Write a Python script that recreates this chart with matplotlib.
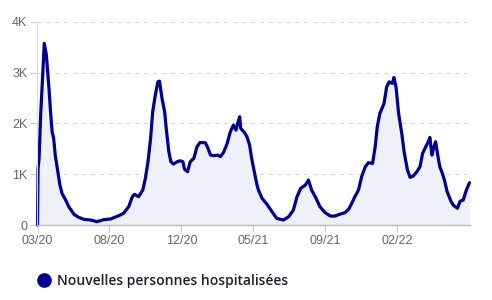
import pandas as pd
import matplotlib
matplotlib.use("Agg")
import matplotlib.pyplot as plt
from matplotlib.lines import Line2D


# Data

start_date = pd.Timestamp("2020-03-18")

day_offsets = [
    0, 1, 3, 6, 10, 13, 17, 22, 25, 28, 31, 34, 38, 43, 47, 54, 60, 70, 79, 89,
    102, 114, 127, 140, 156, 165, 175, 182, 186, 194, 202, 207, 212, 217, 221,
    226, 231, 234, 239, 244, 247, 252, 256, 261, 268, 274, 279, 282, 288, 293,
    300, 306, 312, 322, 326, 332, 338, 346, 351, 357, 364, 370, 376, 381, 384,
    388, 390, 397, 402, 407, 411, 416, 421, 424, 431, 440, 450, 459, 472, 482,
    491, 498, 505, 514, 520, 526, 533, 542, 552, 562, 571, 581, 590, 597, 603,
    609, 616, 622, 629, 635, 643, 648, 652, 657, 665, 670, 675, 681, 684, 688,
    693, 699, 704, 710, 715, 721, 728, 734, 739, 745, 750, 753, 757, 760, 764,
    768, 772, 777, 781, 786, 793, 798, 806, 811, 817, 823, 829,
]

hospitalisations = [
    0, 1110, 1310, 2165, 2950, 3577, 3346, 2690, 2230, 1837, 1706, 1378, 1116,
    787, 623, 492, 361, 210, 151, 112, 98, 66, 105, 118, 184, 230, 361, 558,
    604, 558, 689, 919, 1247, 1706, 2230, 2559, 2821, 2835, 2493, 2230, 1903,
    1443, 1247, 1201, 1247, 1266, 1247, 1102, 1050, 1247, 1313, 1542, 1627,
    1620, 1542, 1378, 1365, 1378, 1345, 1430, 1608, 1837, 1969, 1870, 2001,
    2132, 1903, 1824, 1738, 1575, 1313, 1050, 800, 689, 525, 413, 262, 131,
    98, 164, 295, 558, 722, 787, 886, 689, 558, 361, 243, 177, 177, 216, 243,
    308, 426, 558, 689, 951, 1148, 1227, 1214, 1542, 1936, 2198, 2395, 2722,
    2821, 2789, 2907, 2722, 2198, 1805, 1411, 1083, 939, 965, 1050, 1148,
    1411, 1542, 1640, 1726, 1378, 1509, 1640, 1380, 1148, 1017, 880, 660,
    480, 390, 330, 470, 492, 689, 833,
]

tick_dates = ["2020-03-18", "2020-08-03", "2020-12-19",
              "2021-05-06", "2021-09-21", "2022-02-06"]
tick_labels = ["03/20", "08/20", "12/20", "05/21", "09/21", "02/22"]

y_ticks = [0, 1000, 2000, 3000, 4000]
y_labels = ["0", "1K", "2K", "3K", "4K"]

series_name = "Nouvelles personnes hospitalisées"

dates = start_date + pd.to_timedelta(day_offsets, unit="D")


# Style

LINE_COLOR = "#000091"
FILL_COLOR = "#f0f0f8"
TICK_COLOR = "#666666"
GRID_COLOR = "#d9d9d9"

plt.rcParams["font.family"] = ["Liberation Sans", "DejaVu Sans"]


# Plot

fig = plt.figure(figsize=(4.92, 3.0), dpi=100)
ax = fig.add_axes([0.0752, 0.25, 0.8801, 0.6767])

ax.fill_between(dates, hospitalisations, 0, color=FILL_COLOR, linewidth=0)
ax.plot(dates, hospitalisations, color=LINE_COLOR, linewidth=2.3,
        solid_joinstyle="round", solid_capstyle="round", clip_on=False)

ax.set_xlim(pd.Timestamp(tick_dates[0]) - pd.Timedelta(days=1),
            start_date + pd.Timedelta(days=830))
ax.set_ylim(0, 4000)

ax.set_yticks(y_ticks)
ax.set_yticklabels(y_labels)
ax.set_xticks(pd.to_datetime(tick_dates))
ax.set_xticklabels(tick_labels)

ax.tick_params(axis="both", colors="#cccccc", labelcolor=TICK_COLOR,
               labelsize=9, length=5, width=0.8, pad=2)

ax.grid(axis="y", color=GRID_COLOR, linestyle=(0, (4, 4)), linewidth=0.8)
ax.set_axisbelow(True)

for side in ["top", "right"]:
    ax.spines[side].set_visible(False)
ax.spines["left"].set_color("#dddddd")
ax.spines["left"].set_linewidth(0.8)
ax.spines["bottom"].set_color("#bbbbbb")
ax.spines["bottom"].set_linewidth(1.0)

# Legend
handle = Line2D([], [], marker="o", linestyle="none", markersize=9.5,
                markerfacecolor=LINE_COLOR, markeredgecolor=LINE_COLOR)
fig.legend([handle], [series_name], loc="center left",
           bbox_to_anchor=(0.0726, 0.063), frameon=False, handletextpad=0.3,
           handlelength=1.2, borderaxespad=0, borderpad=0,
           prop={"family": "Open Sans", "weight": "semibold", "size": 10},
           labelcolor="#1e1e2e")

fig.savefig("out.png", dpi=100)
plt.close(fig)
